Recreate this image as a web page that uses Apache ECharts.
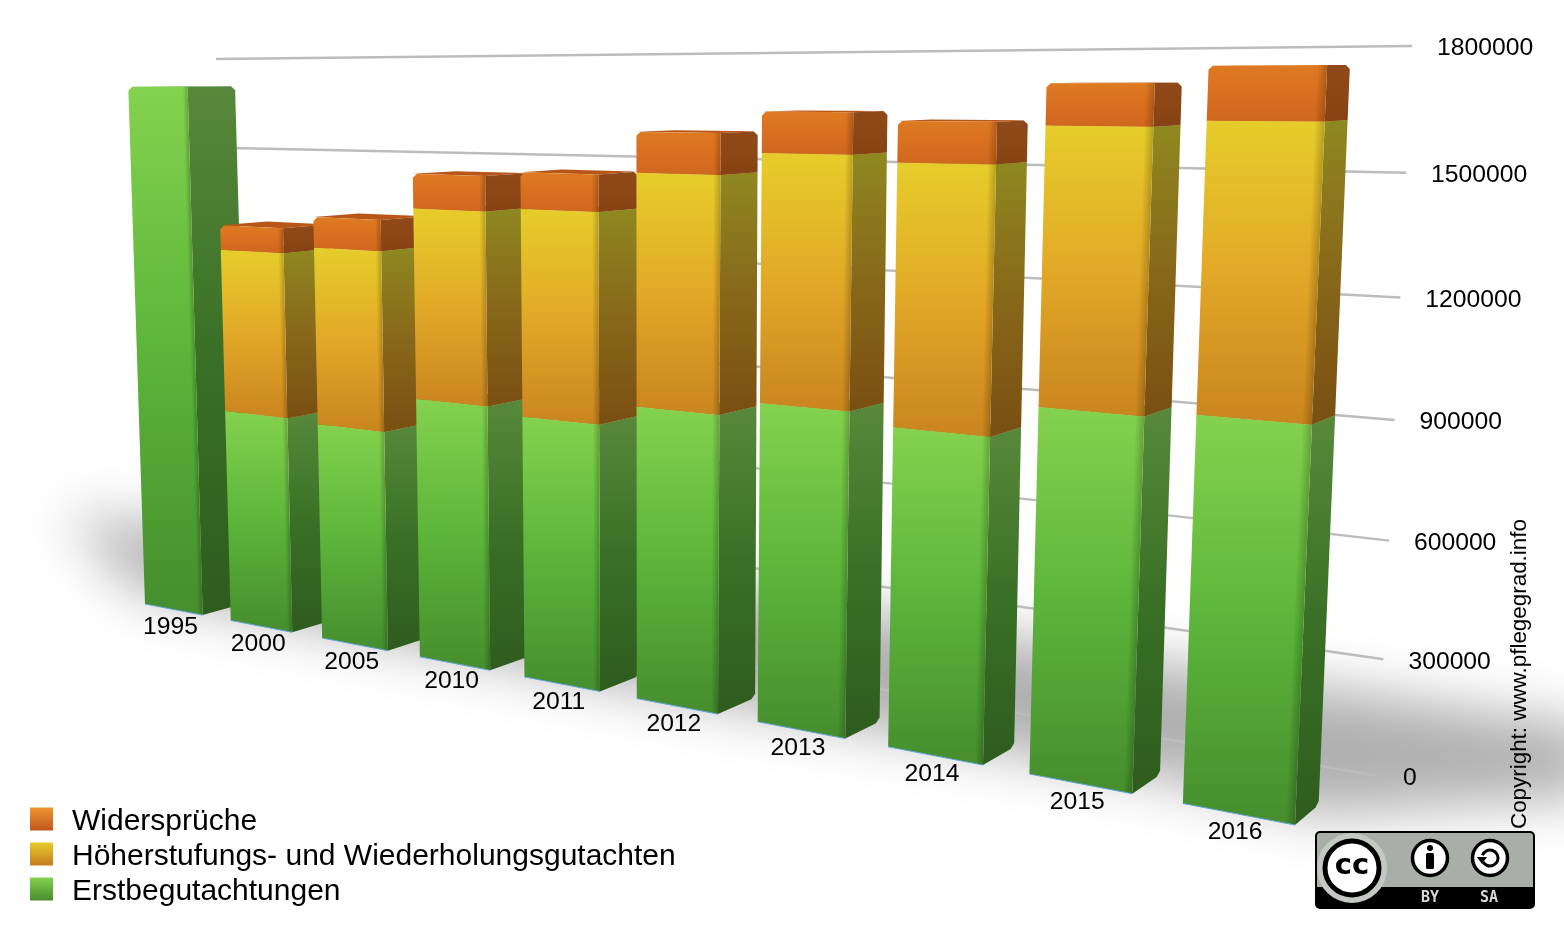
<!DOCTYPE html>
<html>
<head>
<meta charset="utf-8">
<style>html,body{margin:0;padding:0;background:#fff}#main{width:1564px;height:930px}</style>
<script src="https://cdn.jsdelivr.net/npm/echarts@6/dist/echarts.min.js"></script>
</head>
<body>
<div id="main"></div>
<script>
var categories = ['1995', '2000', '2005', '2010', '2011', '2012', '2013', '2014', '2015', '2016'];
var erstbegutachtungen = [1711000, 685000, 678000, 789000, 770000, 832000, 875000, 845000, 931000, 946000];
var hoeherstufungen = [0, 516000, 546000, 566000, 596000, 645000, 662000, 675000, 685000, 685000];
var widersprueche = [0, 77000, 93000, 102000, 104000, 111000, 108000, 104000, 101000, 125000];
var yTicks = [0, 300000, 600000, 900000, 1200000, 1500000, 1800000];

var FONT = '"Liberation Sans", Arial, sans-serif';

// unit square -> quad (p0 = u0v0, p1 = u1v0, p2 = u1v1, p3 = u0v1)
function quad(p) {
    var dx1 = p[1][0] - p[2][0], dx2 = p[3][0] - p[2][0], sx = p[0][0] - p[1][0] + p[2][0] - p[3][0];
    var dy1 = p[1][1] - p[2][1], dy2 = p[3][1] - p[2][1], sy = p[0][1] - p[1][1] + p[2][1] - p[3][1];
    var den = dx1 * dy2 - dx2 * dy1;
    var g = (sx * dy2 - dx2 * sy) / den, h = (dx1 * sy - sx * dy1) / den;
    var a = p[1][0] - p[0][0] + g * p[1][0], b = p[3][0] - p[0][0] + h * p[3][0], c = p[0][0];
    var d = p[1][1] - p[0][1] + g * p[1][1], e = p[3][1] - p[0][1] + h * p[3][1], f = p[0][1];
    return function (u, v) {
        var w = g * u + h * v + 1;
        return [(a * u + b * v + c) / w, (d * u + e * v + f) / w];
    };
}

// the picture is a 3d view: the plane of the bar fronts and the back wall
var frontPlane = quad([[145, 604], [1295, 825], [1328, 45], [127.4, 59]]);
var wallPlane = quad([[233, 576], [1378, 776], [1412, 46], [216, 59]]);
var depthVanish = [2187, 65];
var BAR_SHARE = 0.34;          // half of the front face, in bands
var firstLeft = (0.5 - BAR_SHARE) / categories.length;

// px,py from the cartesian scales -> screen, depth 0 front, 1 back of the bar
function project(sys, px, py, depth) {
    var gx = (px - sys.x) / sys.width, gy = (py - sys.y) / sys.height;
    var u = (gx - firstLeft) / (1 - 2 * firstLeft);
    var p = frontPlane(u, 1 - gy);
    if (depth) {
        var t = depth * (0.0235 + 0.003 * u);
        p = [p[0] + t * (depthVanish[0] - p[0]), p[1] + t * (depthVanish[1] - p[1])];
    }
    return p;
}

function vGrad(stops) {
    return new echarts.graphic.LinearGradient(0, 0, 0, 1, stops.map(function (c, i) {
        return { offset: i / (stops.length - 1), color: c };
    }));
}

// round off a corner of a face with a short cut
function cut(pts, idx, r) {
    var p = pts[idx], a = pts[(idx + pts.length - 1) % pts.length], b = pts[(idx + 1) % pts.length];
    function toward(q) {
        var len = Math.hypot(q[0] - p[0], q[1] - p[1]);
        return [p[0] + (q[0] - p[0]) * r / len, p[1] + (q[1] - p[1]) * r / len];
    }
    return pts.slice(0, idx).concat([toward(a), toward(b)], pts.slice(idx + 1));
}

var faces = {
    green: {
        front: ['#84d24e', '#5cb53a', '#468d2e'],
        side: ['#58893b', '#3a7026', '#2e5c1e'],
        roof: '#5f9a38'
    },
    yellow: {
        front: ['#e6cd2a', '#e2a827', '#c9851f'],
        side: ['#8f8820', '#87681a', '#7a4f12'],
        roof: '#a89a20'
    },
    orange: {
        front: ['#de7a22', '#d96f20', '#cf671e'],
        side: ['#90491a', '#8c4716', '#864213'],
        roof: '#b85617'
    }
};

function barRenderer(style, layer) {
    return function (params, api) {
        var i = api.value(0), base = api.value(1), top = api.value(2);
        if (top <= base) return;
        var sys = params.coordSys;
        var low = api.coord([i, base]), high = api.coord([i, top]);
        var half = api.size([1, 0])[0] * BAR_SHARE;
        var xl = low[0] - half, xr = low[0] + half;
        var fl0 = project(sys, xl, low[1], 0), fr0 = project(sys, xr, low[1], 0);
        var fl1 = project(sys, xl, high[1], 0), fr1 = project(sys, xr, high[1], 0);
        var br0 = project(sys, xr, low[1], 1), br1 = project(sys, xr, high[1], 1);
        var bl1 = project(sys, xl, high[1], 1);
        var z = i * 10 + layer * 3;
        var isTop = top >= erstbegutachtungen[i] + hoeherstufungen[i] + widersprueche[i];
        var front = [fl0, fr0, fr1, fl1], side = [fr0, br0, br1, fr1];
        if (isTop) {
            front = cut(front, 3, 4);
            side = cut(side, 2, 4);
        }
        if (base === 0) {
            side = cut(side, 1, 4);
        }
        var kids = [
            { type: 'polygon', z2: z, shape: { points: isTop ? cut([fl1, bl1, br1, fr1], 2, 4) : [fl1, bl1, br1, fr1] }, style: { fill: style.roof } },
            { type: 'polygon', z2: z + 1, shape: { points: side }, style: { fill: vGrad(style.side) } },
            { type: 'polygon', z2: z + 1, shape: { points: front }, style: { fill: vGrad(style.front) } }
        ];
        // soft dark fold between front and side
        for (var k = 1; k <= 5; k++) {
            var xs = xr - half * 0.03 * k;
            kids.push({
                type: 'polygon', z2: z + 2,
                shape: { points: [project(sys, xs, low[1], 0), fr0, fr1, project(sys, xs, high[1], 0)] },
                style: { fill: 'rgba(0,0,0,0.04)' }
            });
        }
        if (base === 0) {
            kids.push({ type: 'polyline', z2: z + 2, shape: { points: [fl0, fr0] }, style: { stroke: '#5fa5dc', lineWidth: 1, fill: null } });
            var foot = project(sys, low[0], low[1], 0);
            kids.push({
                type: 'text', z2: z + 2, x: foot[0] - 3, y: foot[1] + 18,
                style: { text: categories[i], font: '24.7px ' + FONT, fill: '#000', align: 'center', verticalAlign: 'middle' }
            });
        }
        return { type: 'group', children: kids };
    };
}

function wallRenderer(params, api) {
    var sys = params.coordSys;
    var y = api.coord([0, api.value(0)])[1];
    var v = 1 - (y - sys.y) / sys.height;
    var a = wallPlane(0, v), b = wallPlane(1, v);
    return {
        type: 'group', children: [
            { type: 'line', shape: { x1: a[0], y1: a[1], x2: b[0], y2: b[1] }, style: { stroke: '#bcbcbc', lineWidth: 2.4 } },
            {
                type: 'text', x: b[0] + 25, y: b[1] + 2.5,
                style: { text: String(api.value(0)), font: '24.7px ' + FONT, fill: '#000', align: 'left', verticalAlign: 'middle' }
            }
        ]
    };
}

function stackData(values, below) {
    return values.map(function (v, i) {
        var base = below.reduce(function (s, arr) { return s + arr[i]; }, 0);
        return [i, base, base + v];
    });
}

var legendColors = {
    'Widersprüche': ['#ee9530', '#c0551b'],
    'Höherstufungs- und Wiederholungsgutachten': ['#e6cb2b', '#c47c1f'],
    'Erstbegutachtungen': ['#84d24e', '#468d2e']
};

// only the blur of an off-screen polygon lands on the floor
var OFF = 3000;
function floorShadow(points, blur, color) {
    return {
        type: 'polygon', z: 0, silent: true,
        shape: { points: points.map(function (p) { return [p[0] - OFF, p[1]]; }) },
        style: { fill: '#000', shadowBlur: blur, shadowColor: color, shadowOffsetX: OFF }
    };
}

var myChart = echarts.init(document.getElementById('main'));
myChart.setOption({
    animation: false,
    backgroundColor: '#fff',
    grid: { left: 0, right: 0, top: 0, bottom: 0 },
    xAxis: { type: 'category', data: categories, show: false },
    yAxis: { type: 'value', min: 0, max: 1800000, interval: 300000, show: false },
    legend: {
        orient: 'vertical', left: 30, top: 801, itemWidth: 23, itemHeight: 23, itemGap: -1,
        selectedMode: false, icon: 'rect', padding: 0,
        formatter: '{t|{name}}',
        textStyle: {
            rich: { t: { fontFamily: FONT, fontSize: 30, lineHeight: 30, color: '#000', padding: [6, 0, 0, 14] } }
        },
        data: Object.keys(legendColors).map(function (name) {
            return { name: name, icon: 'rect', itemStyle: { color: vGrad(legendColors[name]) } };
        })
    },
    graphic: [
        floorShadow([[65, 515], [600, 565], [1170, 665], [1600, 728], [1600, 795], [1320, 815], [1170, 780], [640, 690], [230, 610], [135, 590]], 55, '#b0b0b0'),
        {
            type: 'text', z: 5, x: 1520, y: 829, rotation: Math.PI / 2,
            style: { text: 'Copyright: www.pflegegrad.info', font: '22.4px ' + FONT, fill: '#000', align: 'left', verticalAlign: 'middle' }
        },
        // licence badge
        {
            type: 'group', z: 5, children: [
                { type: 'rect', shape: { x: 1316, y: 832, width: 218, height: 76, r: 4 }, style: { fill: '#a9aea8', stroke: '#000', lineWidth: 2 } },
                { type: 'rect', shape: { x: 1316, y: 887, width: 218, height: 21, r: [0, 0, 4, 4] }, style: { fill: '#000' } },
                { type: 'circle', shape: { cx: 1352, cy: 868, r: 35 }, style: { fill: '#c4c8c2' } },
                { type: 'circle', shape: { cx: 1352, cy: 868, r: 27 }, style: { fill: '#fff', stroke: '#000', lineWidth: 5 } },
                { type: 'text', x: 1352, y: 866, style: { text: 'cc', font: 'bold 29px "DejaVu Sans"', fill: '#000', align: 'center', verticalAlign: 'middle' } },
                { type: 'circle', shape: { cx: 1430, cy: 858, r: 17.5 }, style: { fill: '#fff', stroke: '#000', lineWidth: 3.5 } },
                { type: 'circle', shape: { cx: 1430, cy: 848, r: 3 }, style: { fill: '#000' } },
                { type: 'rect', shape: { x: 1426, y: 853, width: 8, height: 16, r: 1.5 }, style: { fill: '#000' } },
                { type: 'circle', shape: { cx: 1490, cy: 858, r: 17.5 }, style: { fill: '#fff', stroke: '#000', lineWidth: 3.5 } },
                { type: 'arc', shape: { cx: 1490, cy: 858, r: 8, startAngle: -2.8, endAngle: 2.6, clockwise: true }, style: { stroke: '#000', lineWidth: 3, fill: null } },
                { type: 'polygon', shape: { points: [[1477, 857], [1487, 857], [1482, 864]] }, style: { fill: '#000' } },
                { type: 'text', x: 1430, y: 898, style: { text: 'BY', font: 'bold 15px "DejaVu Sans Mono"', fill: '#d8d8d8', align: 'center', verticalAlign: 'middle' } },
                { type: 'text', x: 1489, y: 898, style: { text: 'SA', font: 'bold 15px "DejaVu Sans Mono"', fill: '#d8d8d8', align: 'center', verticalAlign: 'middle' } }
            ]
        }
    ],
    series: [
        { type: 'custom', name: 'Gitter', z: 1, silent: true, data: yTicks.map(function (t) { return [t]; }), encode: { y: 0 }, renderItem: wallRenderer },
        { type: 'custom', name: 'Erstbegutachtungen', z: 2, silent: true, data: stackData(erstbegutachtungen, []), encode: { x: 0, y: [1, 2] }, renderItem: barRenderer(faces.green, 0) },
        { type: 'custom', name: 'Höherstufungs- und Wiederholungsgutachten', z: 2, silent: true, data: stackData(hoeherstufungen, [erstbegutachtungen]), encode: { x: 0, y: [1, 2] }, renderItem: barRenderer(faces.yellow, 1) },
        { type: 'custom', name: 'Widersprüche', z: 2, silent: true, data: stackData(widersprueche, [erstbegutachtungen, hoeherstufungen]), encode: { x: 0, y: [1, 2] }, renderItem: barRenderer(faces.orange, 2) }
    ]
});
</script>
</body>
</html>
